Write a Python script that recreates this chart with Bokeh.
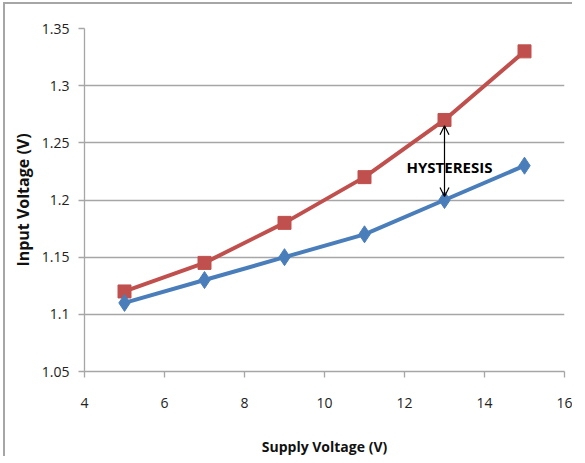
from bokeh.plotting import figure
from bokeh.models import ColumnDataSource, Arrow, OpenHead, Label, FixedTicker
from bokeh.embed import file_html
from bokeh.resources import INLINE

supply_v = [5, 7, 9, 11, 13, 15]
input_low = [1.11, 1.13, 1.15, 1.17, 1.20, 1.23]
input_high = [1.12, 1.145, 1.18, 1.22, 1.27, 1.33]
x_ticks = [4, 6, 8, 10, 12, 14, 16]
y_ticks = [1.05, 1.1, 1.15, 1.2, 1.25, 1.3, 1.35]
y_tick_labels = {1.05: "1.05", 1.1: "1.1", 1.15: "1.15", 1.2: "1.2", 1.25: "1.25", 1.3: "1.3", 1.35: "1.35"}
hyst_x = 13

src = ColumnDataSource(dict(x=supply_v, lo=input_low, hi=input_high))

p = figure(width=569, height=454, output_backend="svg", toolbar_location=None,
           x_range=(4, 16), y_range=(1.05, 1.35),
           min_border_left=79, min_border_right=10, min_border_top=24, min_border_bottom=80,
           styles={"border-top": "2px solid #a6a6a6", "border-left": "2px solid #a6a6a6",
                   "margin-left": "3px", "margin-top": "2px"})
p.outline_line_color = None
p.xgrid.grid_line_color = None
p.ygrid.grid_line_color = "#a6a6a6"
p.ygrid.grid_line_width = 1.3

p.xaxis.ticker = FixedTicker(ticks=x_ticks)
p.yaxis.ticker = FixedTicker(ticks=y_ticks)
p.yaxis.major_label_overrides = y_tick_labels
for ax in (p.xaxis, p.yaxis):
    ax.axis_line_color = "#a6a6a6"
    ax.axis_line_width = 1.3
    ax.major_tick_line_color = "#a6a6a6"
    ax.major_tick_line_width = 1.3
    ax.major_tick_out = 6
    ax.major_tick_in = 0
    ax.minor_tick_line_color = None
    ax.major_label_text_font = "Open Sans"
    ax.major_label_text_font_size = "14px"
    ax.major_label_text_color = "#222222"
    ax.axis_label_text_font = "Open Sans"
    ax.axis_label_text_font_style = "bold"
    ax.axis_label_text_color = "#111111"
p.xaxis.axis_label_text_font_size = "14px"
p.yaxis.axis_label_text_font_size = "16px"
p.xaxis.major_label_standoff = 20
p.yaxis.major_label_standoff = 9
p.xaxis.axis_label = "Supply Voltage (V)"
p.yaxis.axis_label = "Input Voltage (V)"
p.xaxis.axis_label_standoff = 26
p.yaxis.axis_label_standoff = 5

red = "#C0504D"
blue = "#4A7EBB"
p.line("x", "hi", source=src, line_color=red, line_width=4)
p.line("x", "lo", source=src, line_color=blue, line_width=4)
p.scatter("x", "hi", source=src, marker="square", size=13, fill_color=red, line_color=red)
p.scatter("x", "lo", source=src, marker="diamond", size=17, fill_color=blue, line_color=blue)

ylo = input_low[supply_v.index(hyst_x)]
yhi = input_high[supply_v.index(hyst_x)]
p.add_layout(Arrow(x_start=hyst_x, y_start=ylo + 0.003, x_end=hyst_x, y_end=yhi - 0.005,
                   line_color="black", line_width=1.2,
                   start=OpenHead(size=9, line_color="black", line_width=1.2),
                   end=OpenHead(size=9, line_color="black", line_width=1.2)))
p.add_layout(Label(x=12.05, y=1.229, text="HYSTERESIS", text_font="Open Sans",
                   text_font_size="15px", text_font_style="bold", text_color="black",
                   text_baseline="middle", text_align="left"))

open("out.html", "w").write(file_html(p, INLINE))
